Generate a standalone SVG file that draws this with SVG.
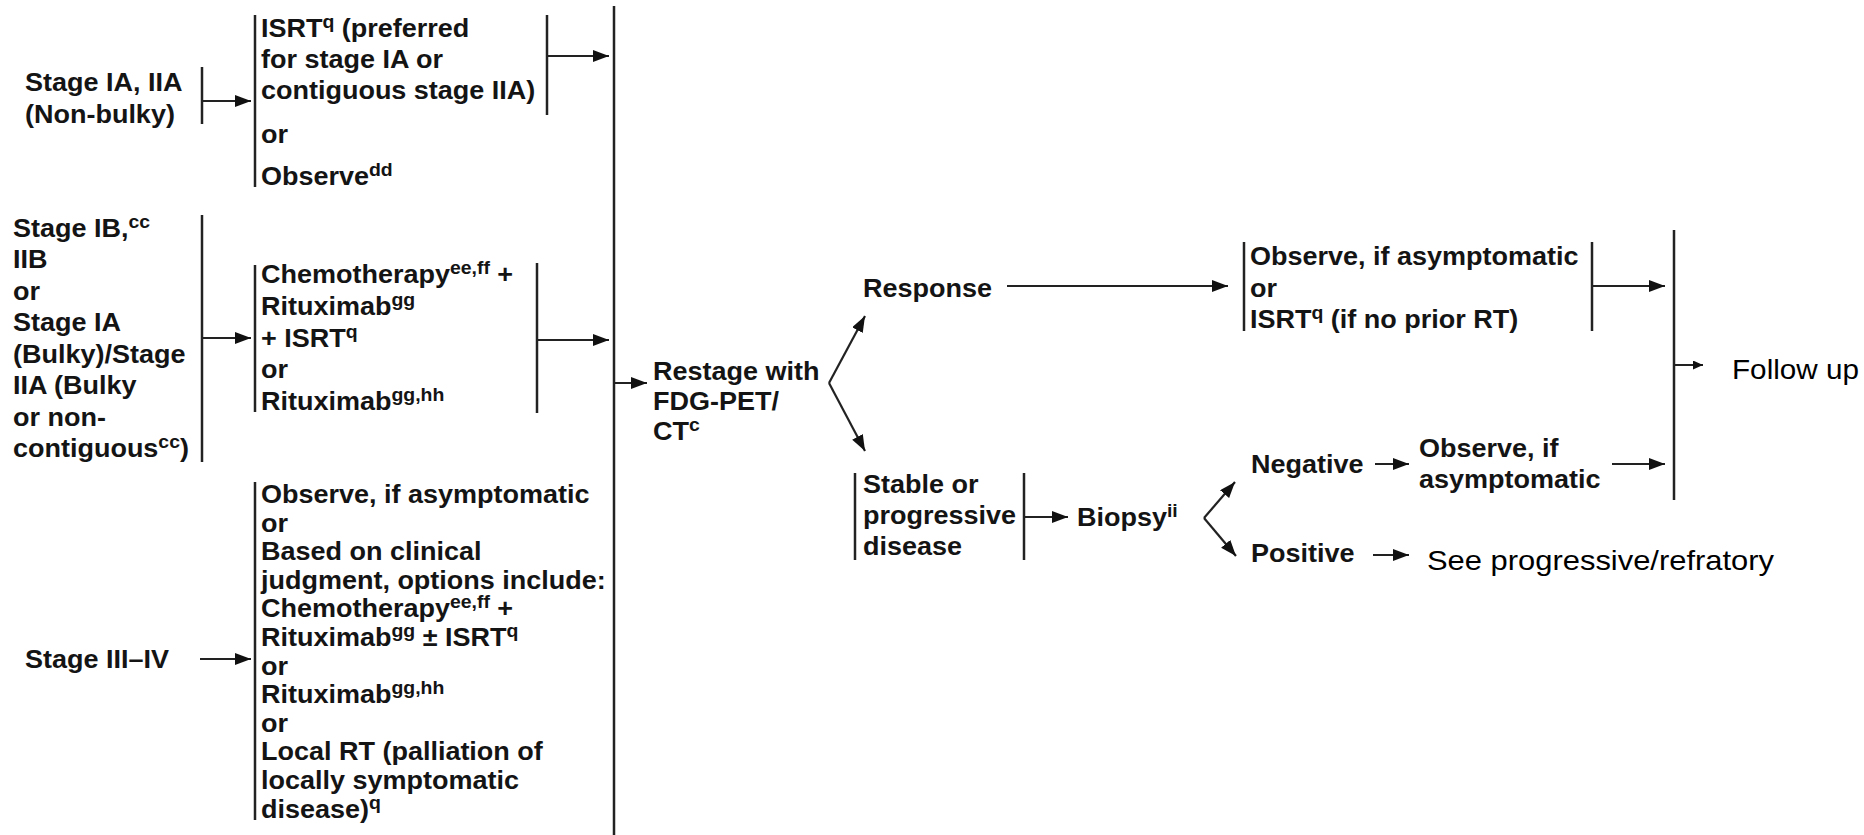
<svg xmlns="http://www.w3.org/2000/svg" width="1864" height="835" viewBox="0 0 1864 835">
<defs>
<style>
.t{font-family:"Liberation Sans",Arial,Helvetica,sans-serif;font-weight:bold;font-size:25px;fill:#141414}
.s{font-size:18px}
.r{font-family:"Liberation Sans",Arial,Helvetica,sans-serif;font-size:28px;fill:#000}
.ln{stroke:#222;stroke-width:2.5;fill:none}
.ar{stroke:#222;stroke-width:2.2;fill:none;marker-end:url(#ah)}
.ar2{stroke:#222;stroke-width:2;fill:none;marker-end:url(#ahs)}
</style>
<marker id="ah" markerUnits="userSpaceOnUse" markerWidth="17" markerHeight="13" refX="16" refY="6" orient="auto"><path d="M0,0 L16,6 L0,12 z" fill="#111"/></marker>
<marker id="ahs" markerUnits="userSpaceOnUse" markerWidth="12" markerHeight="10" refX="10" refY="4.5" orient="auto"><path d="M0,0 L10,4.5 L0,9 z" fill="#111"/></marker>
</defs>
<rect width="1864" height="835" fill="#fff"/>

<g id="connectors">
<line class="ln" x1="614" y1="6" x2="614" y2="835"/>
<line class="ln" x1="202" y1="67" x2="202" y2="124"/>
<line class="ar" x1="202" y1="101" x2="251" y2="101"/>
<line class="ln" x1="255" y1="15" x2="255" y2="187"/>
<line class="ln" x1="547" y1="15" x2="547" y2="115"/>
<line class="ar" x1="547" y1="56" x2="609" y2="56"/>
<line class="ln" x1="202" y1="215" x2="202" y2="462"/>
<line class="ar" x1="202" y1="338" x2="251" y2="338"/>
<line class="ln" x1="255" y1="265" x2="255" y2="412"/>
<line class="ln" x1="537" y1="263" x2="537" y2="413"/>
<line class="ar" x1="537" y1="340" x2="609" y2="340"/>
<line class="ar" x1="200" y1="659" x2="251" y2="659"/>
<line class="ln" x1="255" y1="482" x2="255" y2="820"/>
<line class="ar" x1="614" y1="383" x2="647" y2="383"/>
<line class="ar" x1="829" y1="383" x2="865" y2="316"/>
<line class="ar" x1="829" y1="383" x2="865" y2="451"/>
<line class="ar" x1="1007" y1="286" x2="1228" y2="286"/>
<line class="ln" x1="855" y1="473" x2="855" y2="560"/>
<line class="ln" x1="1024" y1="473" x2="1024" y2="560"/>
<line class="ar" x1="1024" y1="517" x2="1068" y2="517"/>
<line class="ar" x1="1204" y1="518" x2="1235" y2="482"/>
<line class="ar" x1="1204" y1="518" x2="1236" y2="556"/>
<line class="ln" x1="1244" y1="242" x2="1244" y2="331"/>
<line class="ln" x1="1592" y1="242" x2="1592" y2="331"/>
<line class="ar" x1="1592" y1="286" x2="1665" y2="286"/>
<line class="ln" x1="1674" y1="230" x2="1674" y2="500"/>
<line class="ar2" x1="1674" y1="365" x2="1703" y2="365"/>
<line class="ar" x1="1375" y1="464" x2="1409" y2="464"/>
<line class="ar" x1="1612" y1="464" x2="1665" y2="464"/>
<line class="ar" x1="1373" y1="555" x2="1409" y2="555"/>
</g>

<g id="stage1">
<text class="t" transform="translate(25,91) scale(1.08,1)"><tspan x="0" y="0">Stage IA, IIA</tspan><tspan x="0" y="32">(Non-bulky)</tspan></text>
</g>
<g id="treat1">
<text class="t" transform="translate(261,37) scale(1.08,1)"><tspan x="0" y="0">ISRT<tspan class="s" dy="-9">q</tspan><tspan dy="9"> (preferred</tspan></tspan><tspan x="0" y="31">for stage IA or</tspan><tspan x="0" y="62">contiguous stage IIA)</tspan><tspan x="0" y="106">or</tspan><tspan x="0" y="148">Observe<tspan class="s" dy="-9">dd</tspan></tspan></text>
</g>

<g id="stage2">
<text class="t" transform="translate(13,237) scale(1.08,1)"><tspan x="0" y="0">Stage IB,<tspan class="s" dy="-9">cc</tspan></tspan><tspan x="0" y="31.5">IIB</tspan><tspan x="0" y="63">or</tspan><tspan x="0" y="94.5">Stage IA</tspan><tspan x="0" y="126">(Bulky)/Stage</tspan><tspan x="0" y="157.5">IIA (Bulky</tspan><tspan x="0" y="189">or non-</tspan><tspan x="0" y="220.5">contiguous<tspan class="s" dy="-9">cc</tspan><tspan dy="9">)</tspan></tspan></text>
</g>
<g id="treat2">
<text class="t" transform="translate(261,283) scale(1.08,1)"><tspan x="0" y="0">Chemotherapy<tspan class="s" dy="-9">ee,ff</tspan><tspan dy="9"> +</tspan></tspan><tspan x="0" y="32">Rituximab<tspan class="s" dy="-9">gg</tspan></tspan><tspan x="0" y="64">+ ISRT<tspan class="s" dy="-9">q</tspan></tspan><tspan x="0" y="95">or</tspan><tspan x="0" y="127">Rituximab<tspan class="s" dy="-9">gg,hh</tspan></tspan></text>
</g>

<g id="stage3">
<text class="t" transform="translate(25,668) scale(1.08,1)">Stage III–IV</text>
</g>
<g id="treat3">
<text class="t" transform="translate(261,503) scale(1.08,1)"><tspan x="0" y="0">Observe, if asymptomatic</tspan><tspan x="0" y="28.6">or</tspan><tspan x="0" y="57.2">Based on clinical</tspan><tspan x="0" y="85.8">judgment, options include:</tspan><tspan x="0" y="114.4">Chemotherapy<tspan class="s" dy="-9">ee,ff</tspan><tspan dy="9"> +</tspan></tspan><tspan x="0" y="143">Rituximab<tspan class="s" dy="-9">gg</tspan><tspan dy="9"> ± ISRT</tspan><tspan class="s" dy="-9">q</tspan></tspan><tspan x="0" y="171.6">or</tspan><tspan x="0" y="200.2">Rituximab<tspan class="s" dy="-9">gg,hh</tspan></tspan><tspan x="0" y="228.8">or</tspan><tspan x="0" y="257.4">Local RT (palliation of</tspan><tspan x="0" y="286">locally symptomatic</tspan><tspan x="0" y="314.6">disease)<tspan class="s" dy="-9">q</tspan></tspan></text>
</g>

<g id="restage">
<text class="t" transform="translate(653,380) scale(1.08,1)"><tspan x="0" y="0">Restage with</tspan><tspan x="0" y="30">FDG-PET/</tspan><tspan x="0" y="60">CT<tspan class="s" dy="-9">c</tspan></tspan></text>
</g>
<g id="response">
<text class="t" transform="translate(863,297) scale(1.08,1)">Response</text>
</g>
<g id="stable">
<text class="t" transform="translate(863,493) scale(1.08,1)"><tspan x="0" y="0">Stable or</tspan><tspan x="0" y="31">progressive</tspan><tspan x="0" y="62">disease</tspan></text>
</g>
<g id="biopsy">
<text class="t" transform="translate(1077,526) scale(1.08,1)">Biopsy<tspan class="s" dy="-9">ii</tspan></text>
</g>
<g id="observe-rt">
<text class="t" transform="translate(1250,265) scale(1.08,1)"><tspan x="0" y="0">Observe, if asymptomatic</tspan><tspan x="0" y="32">or</tspan><tspan x="0" y="63">ISRT<tspan class="s" dy="-9">q</tspan><tspan dy="9"> (if no prior RT)</tspan></tspan></text>
</g>
<g id="negative">
<text class="t" transform="translate(1251,473) scale(1.08,1)">Negative</text>
</g>
<g id="observe-neg">
<text class="t" transform="translate(1419,457) scale(1.08,1)"><tspan x="0" y="0">Observe, if</tspan><tspan x="0" y="31">asymptomatic</tspan></text>
</g>
<g id="positive">
<text class="t" transform="translate(1251,562) scale(1.08,1)">Positive</text>
</g>
<g id="see-progressive">
<text class="r" x="1427" y="570" textLength="347" lengthAdjust="spacingAndGlyphs">See progressive/refratory</text>
</g>
<g id="follow-up">
<text class="r" x="1732" y="379" textLength="127" lengthAdjust="spacingAndGlyphs">Follow up</text>
</g>
</svg>
